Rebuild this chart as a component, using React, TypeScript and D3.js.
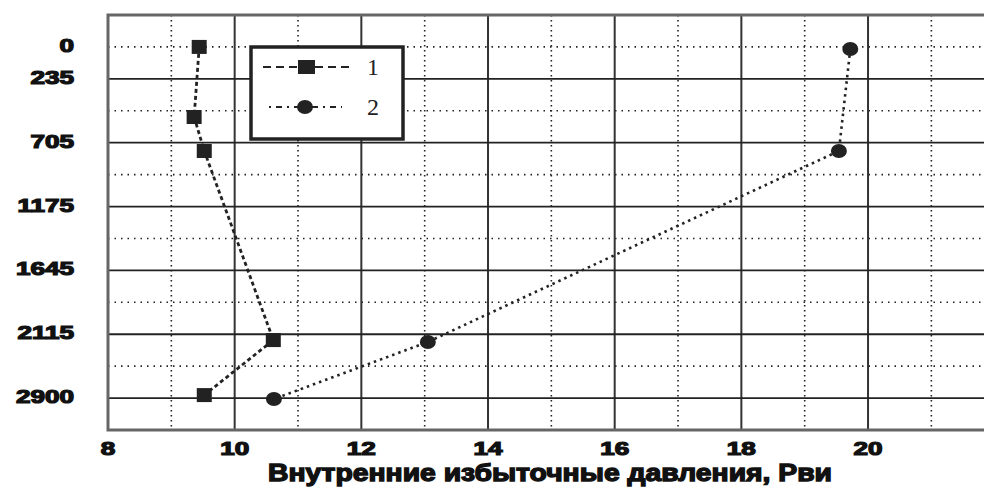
import React from "react";
import * as d3 from "d3";

const series1X = [9.44, 9.36, 9.52, 10.61, 9.52];
const series1Depth = [0, 516, 766, 2158, 2563];
const series2X = [19.72, 19.54, 13.05, 10.62];
const series2Depth = [15, 766, 2172, 2592];
const xTickValues = [8, 10, 12, 14, 16, 18, 20];
const yTickValues = [0, 235, 705, 1175, 1645, 2115, 2585];
const yTickLabels = ["0", "235", "705", "1175", "1645", "2115", "2900"];
const legendLabels = ["1", "2"];
const xTitle = "Внутренние избыточные давления, Рви";

const W = 984;
const H = 491;

export default function App() {
  const x = d3.scaleLinear().domain([8, 22]).range([108, 994.7]);
  const y = d3.scaleLinear().domain([-235, 2820]).range([15, 430]);

  const majorX = d3.range(10, 23, 2);
  const minorX = d3.range(9, 22, 2);
  const majorY = d3.range(235, 2600, 470);
  const minorY = d3.range(0, 2400, 470);

  const line = d3
    .line<[number, number]>()
    .x((d) => x(d[0]))
    .y((d) => y(d[1]));

  const pts1: [number, number][] = series1X.map((v, i) => [v, series1Depth[i]]);
  const pts2: [number, number][] = series2X.map((v, i) => [v, series2Depth[i]]);

  const x0 = x(8);
  const x1 = x(22);
  const yTop = y(-235);
  const yBot = y(2820);

  const boldFont = "'Liberation Sans', Arial, sans-serif";

  return (
    <svg
      width={W}
      height={H}
      style={{ position: "absolute", left: 0, top: 0, background: "#fff" }}
    >
      {/* minor dotted grid */}
      {minorX.map((v) => (
        <line
          key={"mx" + v}
          x1={x(v)}
          x2={x(v)}
          y1={yTop}
          y2={yBot}
          stroke="#222"
          strokeWidth={1.6}
          strokeDasharray="1.5,3.5"
        />
      ))}
      {minorY.map((v) => (
        <line
          key={"my" + v}
          x1={x0}
          x2={x1}
          y1={y(v)}
          y2={y(v)}
          stroke="#222"
          strokeWidth={1.6}
          strokeDasharray="1.5,5"
        />
      ))}
      {/* major solid grid */}
      {majorX.map((v) => (
        <line
          key={"Mx" + v}
          x1={x(v)}
          x2={x(v)}
          y1={yTop}
          y2={yBot}
          stroke="#333"
          strokeWidth={2}
        />
      ))}
      {majorY.map((v) => (
        <line
          key={"My" + v}
          x1={x0}
          x2={x1}
          y1={y(v)}
          y2={y(v)}
          stroke="#222"
          strokeWidth={1.8}
        />
      ))}
      {/* frame */}
      <rect
        x={x0}
        y={yTop}
        width={x1 - x0}
        height={yBot - yTop}
        fill="none"
        stroke="#666"
        strokeWidth={3}
      />

      {/* legend */}
      <rect x={251} y={47} width={152} height={92} fill="#fff" stroke="#222" strokeWidth={3.5} />
      <line x1={263} x2={352} y1={67} y2={67} stroke="#222" strokeWidth={2} strokeDasharray="8,5" />
      <rect x={298} y={60} width={17} height={14} fill="#222" />
      <line x1={269} x2={342} y1={107} y2={107} stroke="#222" strokeWidth={2} strokeDasharray="2,5,6,5" />
      <ellipse cx={305} cy={107} rx={8} ry={7} fill="#222" />
      {legendLabels.map((l, i) => (
        <text
          key={l}
          x={373}
          y={75 + i * 40}
          textAnchor="middle"
          fontFamily="'Liberation Serif', 'Times New Roman', serif"
          fontSize={24}
          fill="#222"
        >
          {l}
        </text>
      ))}

      {/* series lines */}
      <path d={line(pts1) || ""} fill="none" stroke="#222" strokeWidth={2.8} strokeDasharray="4,3" />
      <path d={line(pts2) || ""} fill="none" stroke="#222" strokeWidth={2.6} strokeDasharray="2.5,4" />

      {/* markers */}
      {pts1.map((p, i) => (
        <rect key={"s" + i} x={x(p[0]) - 7.5} y={y(p[1]) - 7} width={15} height={14} fill="#222" />
      ))}
      {pts2.map((p, i) => (
        <ellipse key={"c" + i} cx={x(p[0])} cy={y(p[1])} rx={8} ry={7} fill="#222" />
      ))}

      {/* x tick labels */}
      {xTickValues.map((v) => (
        <text
          key={"xt" + v}
          transform={`translate(${x(v)},455) scale(1.45,1)`}
          textAnchor="middle"
          fontFamily={boldFont}
          fontWeight={700}
          fontSize={18}
          fill="#111"
          stroke="#111"
          strokeWidth={1.2}
        >
          {v}
        </text>
      ))}

      {/* y tick labels */}
      {yTickValues.map((v, i) => (
        <text
          key={"yt" + v}
          transform={`translate(74,${y(v) + 5}) scale(1.45,1)`}
          textAnchor="end"
          fontFamily={boldFont}
          fontWeight={700}
          fontSize={18}
          fill="#111"
          stroke="#111"
          strokeWidth={1.2}
        >
          {yTickLabels[i]}
        </text>
      ))}

      {/* x title */}
      <text
        x={268}
        y={481}
        textLength={564}
        lengthAdjust="spacingAndGlyphs"
        fontFamily={boldFont}
        fontWeight={700}
        fontSize={23}
        fill="#111"
        stroke="#111"
        strokeWidth={1.3}
      >
        {xTitle}
      </text>
    </svg>
  );
}
